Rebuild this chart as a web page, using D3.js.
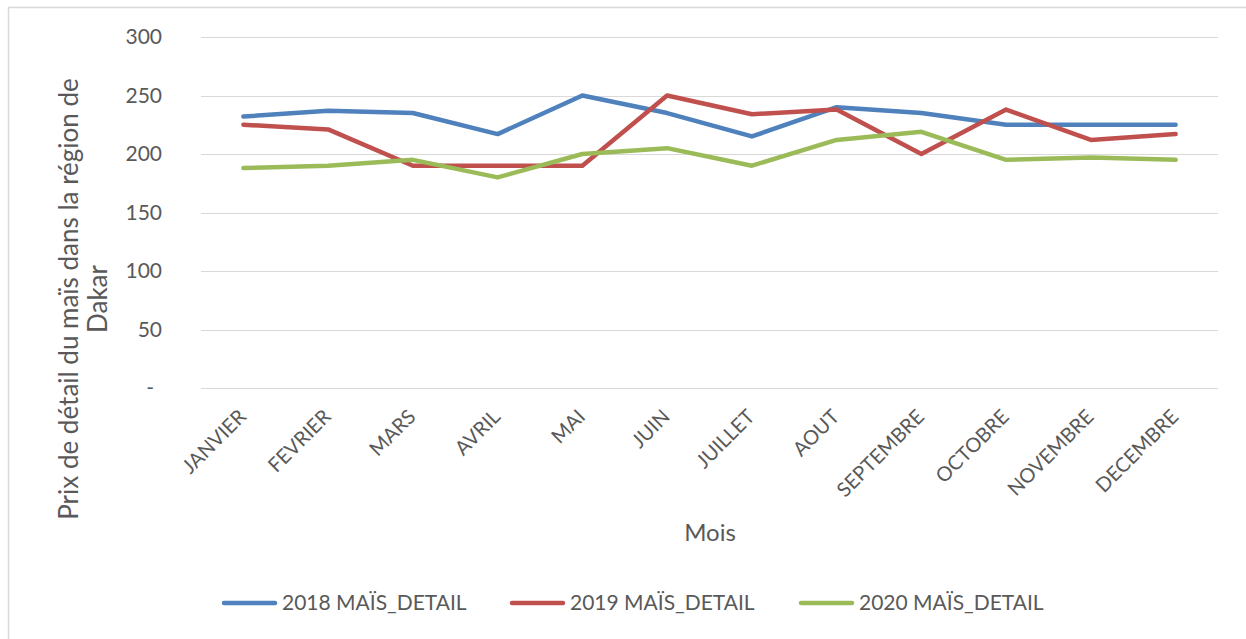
<!DOCTYPE html>
<html><head><meta charset="utf-8">
<script src="https://cdn.jsdelivr.net/npm/d3@7"></script>
<style>body{margin:0;background:#fff;}svg{display:block;font-family:Lato,"Open Sans",sans-serif;}</style>
</head><body>
<svg id="c" width="1246" height="639"></svg>
<script>
const months = ["JANVIER","FEVRIER","MARS","AVRIL","MAI","JUIN","JUILLET","AOUT","SEPTEMBRE","OCTOBRE","NOVEMBRE","DECEMBRE"];
const seriesNames = ["2018 MAÏS_DETAIL","2019 MAÏS_DETAIL","2020 MAÏS_DETAIL"];
const values2018 = [232,237,235,217,250,235,215,240,235,225,225,225];
const values2019 = [225,221,190,190,190,250,234,238,200,238,212,217];
const values2020 = [188,190,195,180,200,205,190,212,219,195,197,195];
const yTicks = [0,50,100,150,200,250,300];
const colors = ["#4F81BD","#C0504D","#9BBB59"];

const svg = d3.select("#c");
const textColor = "#595959";
// chart border
svg.append("rect").attr("x",8.5).attr("y",7.5).attr("width",1300).attr("height",700)
  .attr("fill","none").attr("stroke","#D9D9D9").attr("stroke-width",1.5);

const x = d3.scaleBand().domain(months).range([201,1218]);
const y = d3.scaleLinear().domain([0,300]).range([388,37]);
const cx = m => x(m) + x.bandwidth()/2;

// gridlines
svg.append("g").selectAll("line").data(yTicks).join("line")
  .attr("x1",201).attr("x2",1218)
  .attr("y1",d=>Math.round(y(d))+0.5).attr("y2",d=>Math.round(y(d))+0.5)
  .attr("stroke","#D9D9D9").attr("stroke-width",1.2);

// y tick labels
svg.append("g").selectAll("text").data(yTicks).join("text")
  .attr("x",d=>d===0?154:162).attr("y",d=>y(d)).attr("dy","0.35em")
  .attr("text-anchor","end").attr("fill",textColor).attr("font-size",21)
  .text(d=>d===0?"-":d3.format("d")(d));

// x tick labels
svg.append("g").selectAll("text").data(months).join("text")
  .attr("transform",m=>`translate(${cx(m)+4},${418}) rotate(-45)`)
  .attr("text-anchor","end").attr("fill",textColor).attr("font-size",20)
  .text(m=>m);

// lines
const allSeries = [values2018, values2019, values2020];
const line = d3.line().x((d,i)=>cx(months[i])).y(d=>y(d));
svg.append("g").selectAll("path").data(allSeries).join("path")
  .attr("d",line).attr("fill","none")
  .attr("stroke",(d,i)=>colors[i]).attr("stroke-width",4.5)
  .attr("stroke-linejoin","round").attr("stroke-linecap","round");

// y title
const yt = svg.append("text").attr("transform","translate(0,299) rotate(-90)")
  .attr("text-anchor","middle").attr("fill",textColor).attr("font-size",26);
yt.append("tspan").attr("x",0).attr("y",78).text("Prix de détail du maïs dans la région de");
yt.append("tspan").attr("x",0).attr("y",107).text("Dakar");

// x title
svg.append("text").attr("x",710).attr("y",541).attr("text-anchor","middle")
  .attr("fill",textColor).attr("font-size",24).text("Mois");

// legend
const legendX = [222,510,799];
const lg = svg.append("g").selectAll("g").data(seriesNames).join("g")
  .attr("transform",(d,i)=>`translate(${legendX[i]},603)`);
lg.append("line").attr("x1",2).attr("x2",53).attr("y1",0).attr("y2",0)
  .attr("stroke",(d,i)=>colors[i]).attr("stroke-width",4.5).attr("stroke-linecap","round");
lg.append("text").attr("x",60).attr("y",0).attr("dy","0.35em")
  .attr("fill",textColor).attr("font-size",21).text(d=>d);
</script>
</body></html>
